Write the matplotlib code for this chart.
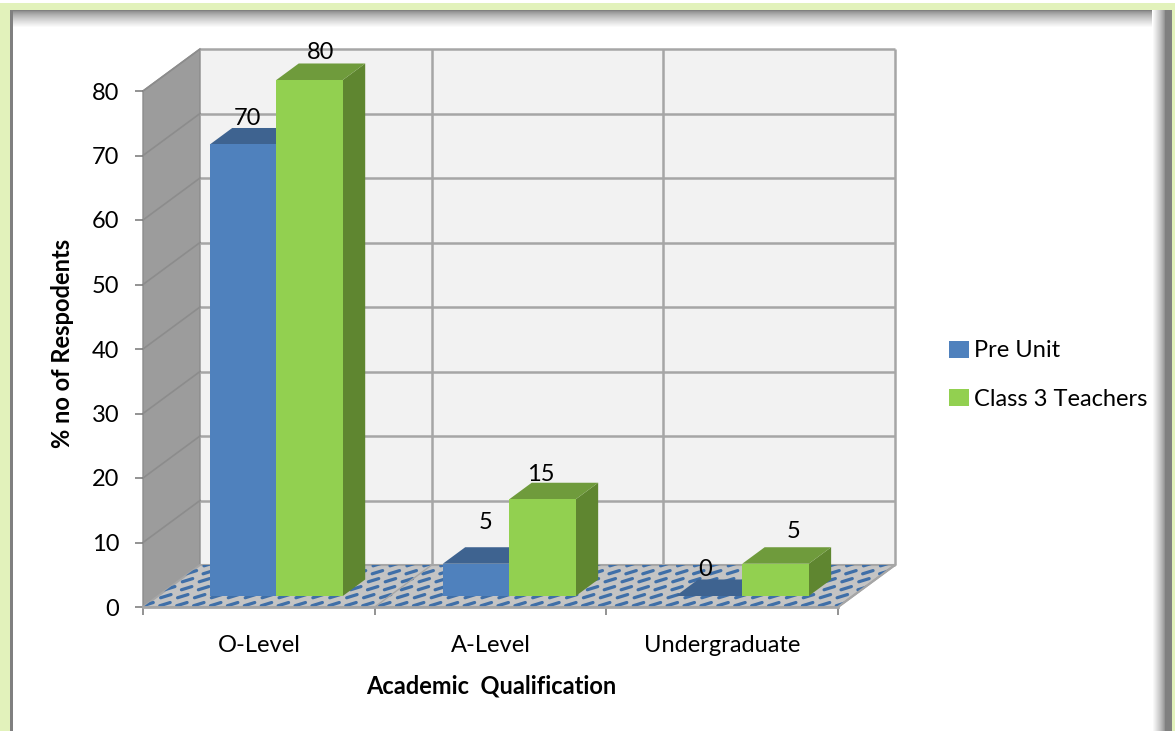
import numpy as np
import matplotlib
matplotlib.use("Agg")
import matplotlib.pyplot as plt
from matplotlib.collections import LineCollection
from matplotlib.patches import Patch, Polygon, Rectangle

plt.rcParams["font.family"] = ["Lato", "DejaVu Sans"]

categories = ["O-Level", "A-Level", "Undergraduate"]
pre_unit = [70, 5, 0]
class_3 = [80, 15, 5]
y_ticks = [0, 10, 20, 30, 40, 50, 60, 70, 80]

W, H = 1175, 731
# front plane of the 3d box, in pixels
LEFT, RIGHT, BASE, TOP = 143, 838, 607, 91
# how far the back wall is shifted, in data units
DX = 57 / ((RIGHT - LEFT) / 3)
DY = 42 / ((BASE - TOP) / 80)

BAR_W = 0.287
GAP = 0.224
STEP = 1.0056
D0, D1 = 0.262, 0.655
FS = 17

BLUE = ("#4f81bd", "#3e6390", "#3a5f8c")
GREEN = ("#92d050", "#6f9b3c", "#5f8630")
GRID = "#a6a6a6"


def pr(x, v, d):
    return (x + d * DX, v + d * DY)


def bar3d(ax, x, val, cols, z):
    x1 = x + BAR_W
    front = [pr(x, 0, D0), pr(x1, 0, D0), pr(x1, val, D0), pr(x, val, D0)]
    top = [pr(x, val, D0), pr(x1, val, D0), pr(x1, val, D1), pr(x, val, D1)]
    side = [pr(x1, 0, D0), pr(x1, 0, D1), pr(x1, val, D1), pr(x1, val, D0)]
    for pts, c in [(side, cols[2]), (top, cols[1]), (front, cols[0])]:
        ax.add_patch(Polygon(pts, closed=True, fc=c, ec="none", zorder=z, clip_on=False))


fig = plt.figure(figsize=(W / 100, H / 100), dpi=100, facecolor="white")

# picture frame: pale green edge and soft grey inner shadow
bg = fig.add_axes([0, 0, 1, 1], zorder=0)
bg.set_xlim(0, W)
bg.set_ylim(H, 0)
bg.axis("off")
bg.add_patch(Rectangle((0, 3), W, 8, fc="#e2f2bb", ec="none"))
bg.add_patch(Rectangle((0, 3), 10, H, fc="#e2f2bb", ec="none"))
bg.add_patch(Rectangle((W - 3, 3), 3, H, fc="#e2f2bb", ec="none"))
for i in range(18):
    g = 0.5 + 0.5 * (i / 17) ** 0.7
    bg.add_patch(Rectangle((10, 10 + i), W - 13, 1.2, fc=(g, g, g), ec="none"))
for i in range(14):
    g = 0.5 + 0.5 * (i / 13) ** 0.7
    bg.add_patch(Rectangle((W - 10 - i, 10), 1.2, H, fc=(g, g, g), ec="none"))
bg.add_patch(Rectangle((W - 10, 10), 7, H, fc="#808080", ec="none"))
bg.add_patch(Rectangle((10, 10), 2.5, H, fc="#808080", ec="none"))

ax = fig.add_axes(
    [LEFT / W, (H - BASE) / H, (RIGHT - LEFT) / W, (BASE - TOP) / H], zorder=1
)
ax.patch.set_alpha(0)
ax.set_xlim(0, 3)
ax.set_ylim(0, 80)
for s in ax.spines.values():
    s.set_visible(False)

# walls
back = [pr(0, 0, 1), pr(3, 0, 1), pr(3, 80, 1), pr(0, 80, 1)]
ax.add_patch(Polygon(back, fc="#f2f2f2", ec="none", zorder=1, clip_on=False))
wall = [pr(0, 0, 0), pr(0, 0, 1), pr(0, 80, 1), pr(0, 80, 0)]
ax.add_patch(Polygon(wall, fc="#9c9c9c", ec="#8c8c8c", lw=1, zorder=1, clip_on=False))

# floor with woven dash pattern
floor = Polygon(
    [pr(0, 0, 0), pr(3, 0, 0), pr(3, 0, 1), pr(0, 0, 1)],
    fc="#c4c4c4", ec="#a6a6a6", lw=1.5, zorder=2, clip_on=False,
)
ax.add_patch(floor)
segs = []
for r, d in enumerate(np.arange(0.03, 1.0, 0.19)):
    for x in np.arange(-0.3 + (r % 2) * 0.03, 3.4, 0.073):
        a = pr(x, 0, d)
        b = (a[0] + 0.045, a[1] + 0.5)
        segs.append([a, b])
dashes = LineCollection(segs, colors="#3f6fa8", linewidths=2.3, zorder=2.1, capstyle="round")
ax.add_collection(dashes)
dashes.set_clip_path(floor)
dashes.set_clip_box(None)  # axes box would cut the floor's right corner
ax.plot([pr(1, 0, 0)[0], pr(1, 0, 1)[0]], [pr(1, 0, 0)[1], pr(1, 0, 1)[1]],
        color="#a6a6a6", lw=1, zorder=2.2, clip_on=False)

# grid on back wall and side wall
for v in y_ticks:
    ax.plot([pr(0, v, 1)[0], pr(3, v, 1)[0]], [pr(0, v, 1)[1], pr(3, v, 1)[1]],
            color=GRID, lw=1.8, zorder=1.5, clip_on=False, solid_capstyle="butt")
    if v > 0:
        ax.plot([pr(0, v, 0)[0], pr(0, v, 1)[0]], [pr(0, v, 0)[1], pr(0, v, 1)[1]],
                color="#8c8c8c", lw=1.2, zorder=1.5, clip_on=False)
for x in [1, 2, 3]:
    ax.plot([pr(x, 0, 1)[0], pr(x, 80, 1)[0]], [pr(x, 0, 1)[1], pr(x, 80, 1)[1]],
            color=GRID, lw=1.8, zorder=1.5, clip_on=False, solid_capstyle="butt")
ax.plot([pr(3, 0, 0)[0], pr(3, 0, 1)[0]], [0, pr(3, 0, 1)[1]], color=GRID, lw=1.5,
        zorder=2.2, clip_on=False)

# bars
for i in range(len(categories)):
    x = i * STEP + GAP
    bar3d(ax, x, pre_unit[i], BLUE, 3 + i)
    bar3d(ax, x + BAR_W, class_3[i], GREEN, 3.5 + i)

# value labels, nudged by hand like the original (pixels from the bar's front top centre)
pre_nudge = [(4, 26), (10, 41), (-4, 26)]
cls_nudge = [(11, 27), (-2, 25), (18, 32)]
for i in range(len(categories)):
    x = i * STEP + GAP + BAR_W / 2
    for xc, val, nud in [(x, pre_unit[i], pre_nudge[i]), (x + BAR_W, class_3[i], cls_nudge[i])]:
        ax.annotate(str(val), pr(xc, val, D0), xytext=nud, textcoords="offset pixels",
                    ha="center", va="center", fontsize=FS, color="black",
                    zorder=10, annotation_clip=False)

# axes ticks
ax.set_yticks(y_ticks)
ax.set_xticks([0, 1, 2, 3])
ax.set_xticklabels([])
ax.set_xticks([0.5, 1.5, 2.5], minor=True)
ax.set_xticklabels(categories, minor=True, fontsize=FS)
ax.tick_params(axis="y", length=6, width=1.2, color="#808080", labelsize=FS, pad=11)
ax.tick_params(axis="x", which="major", length=6, width=1.2, color="#808080")
ax.tick_params(axis="x", which="minor", length=0, pad=20)
ax.plot([0, 3], [0, 0], color="#a6a6a6", lw=2, zorder=2.3, clip_on=False)

ax.set_xlabel("Academic  Qualification", fontsize=FS, fontweight="bold")
ax.xaxis.set_label_coords(0.5007, -0.153)
ax.xaxis.label.set_va("center")
ax.set_ylabel("% no of Respodents", fontsize=FS, fontweight="bold")
ax.yaxis.set_label_coords(-0.1165, 0.51)
ax.yaxis.label.set_va("center")

handles = [Patch(fc=BLUE[0], ec="none"), Patch(fc=GREEN[0], ec="none")]
fig.legend(handles, ["Pre Unit", "Class 3 Teachers"], loc="center left",
           bbox_to_anchor=(941 / W, (H - 375) / H), frameon=False, fontsize=FS,
           handlelength=0.85, handleheight=0.75, handletextpad=0.2,
           labelspacing=1.15, borderpad=0, borderaxespad=0.35)

fig.savefig("out.png", dpi=100)
